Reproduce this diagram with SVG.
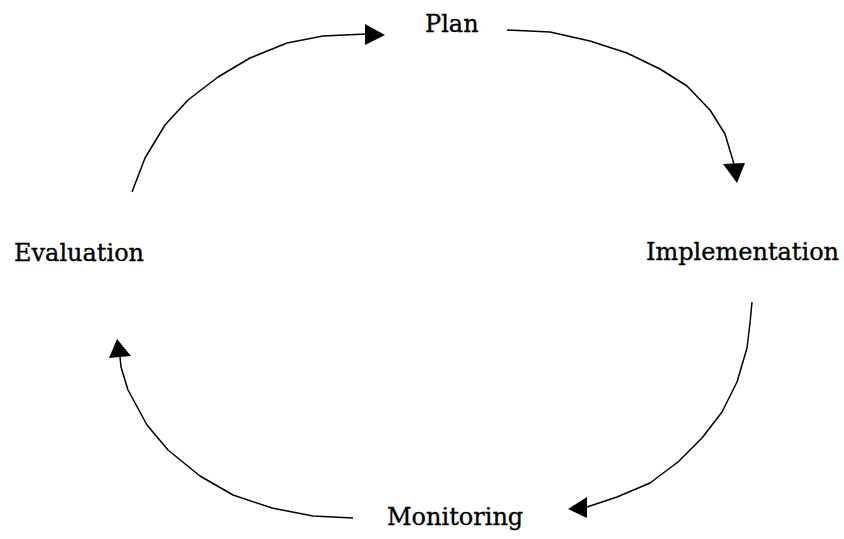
<svg xmlns="http://www.w3.org/2000/svg" width="844" height="539" viewBox="0 0 844 539">
  <style>
    .label { font-family: "DejaVu Serif", "Liberation Serif", serif; font-size: 24px; fill: #000; stroke: #000; stroke-width: 0.35; }
    .arc { fill: none; stroke: #000; stroke-width: 1.5; stroke-linejoin: round; }
    .head { fill: #000; stroke: none; }
  </style>
  <rect width="844" height="539" fill="#fff"/>

  <!-- cycle stages -->
  <g id="plan"><text class="label" x="425" y="32">Plan</text></g>
  <g id="implementation"><text class="label" x="646" y="260">Implementation</text></g>
  <g id="monitoring"><text class="label" x="387" y="525">Monitoring</text></g>
  <g id="evaluation"><text class="label" x="14" y="261">Evaluation</text></g>

  <!-- curved arrows between stages -->
  <g id="connectors">
    <!-- Evaluation to Plan -->
    <polyline class="arc" points="132,192 145,158 165,125 188,100 218,77 250,58 287,43 323,36 366,34"/>
    <polygon class="head" points="365,24 385,35 365,45"/>
    <!-- Plan to Implementation -->
    <polyline class="arc" points="507,30 550,32 590,41 627,53 660,69 687,86 710,110 725,134 734,164"/>
    <polygon class="head" points="723,164 745,163 737,183"/>
    <!-- Implementation to Monitoring -->
    <polyline class="arc" points="752,302 750,323 747,348 737,382 722,412 702,438 678,462 650,483 617,497 587,507"/>
    <polygon class="head" points="587,497 587,518 568,509"/>
    <!-- Monitoring to Evaluation -->
    <polyline class="arc" points="353,518 313,516 272,508 233,495 200,476 168,450 147,425 128,390 121,367 120,357"/>
    <polygon class="head" points="109,358 131,356 117,339"/>
  </g>
</svg>
